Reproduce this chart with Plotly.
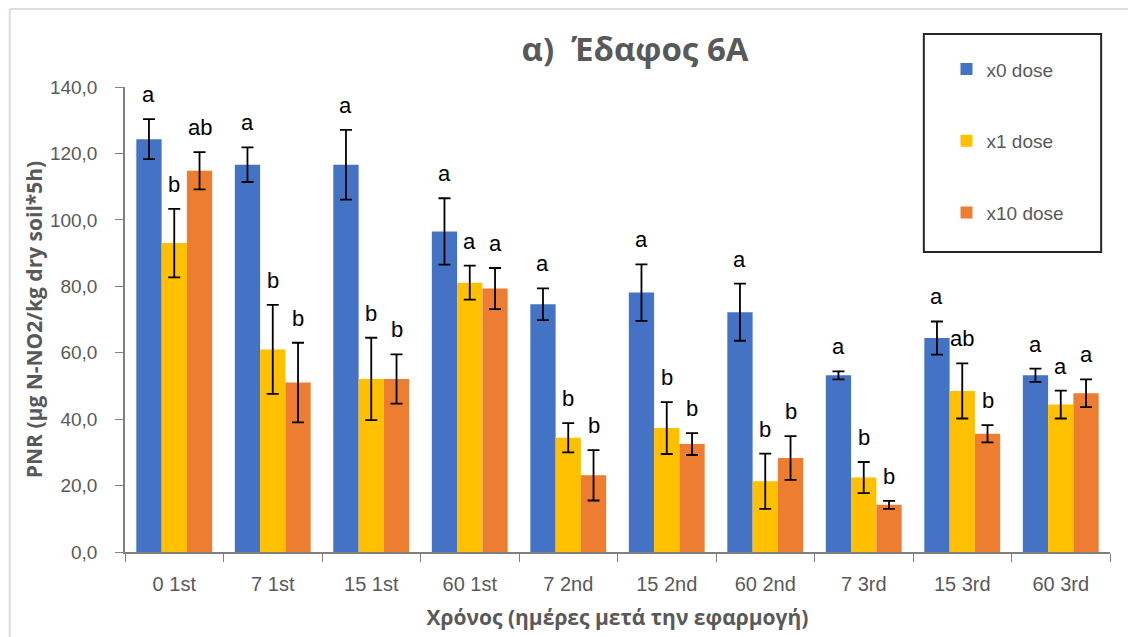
import plotly.graph_objects as go

# Sampling times (days after application / application round)
categories = ["0 1st", "7 1st", "15 1st", "60 1st", "7 2nd",
              "15 2nd", "60 2nd", "7 3rd", "15 3rd", "60 3rd"]

# Mean PNR per treatment
x0_mean = [124.3, 116.6, 116.6, 96.5, 74.6, 78.1, 72.2, 53.2, 64.4, 53.2]
x1_mean = [93.0, 61.0, 52.1, 81.1, 34.4, 37.3, 21.3, 22.4, 48.5, 44.4]
x10_mean = [114.8, 51.0, 52.1, 79.3, 23.1, 32.5, 28.3, 14.2, 35.6, 47.8]

# Standard errors
x0_err = [6.0, 5.2, 10.5, 10.0, 4.8, 8.5, 8.6, 1.2, 5.0, 2.0]
x1_err = [10.3, 13.4, 12.4, 5.1, 4.4, 7.8, 8.3, 4.7, 8.3, 4.2]
x10_err = [5.6, 12.0, 7.4, 6.2, 7.6, 3.3, 6.6, 1.2, 2.6, 4.2]

# Significance letters
x0_sig = ["a", "a", "a", "a", "a", "a", "a", "a", "a", "a"]
x1_sig = ["b", "b", "b", "a", "b", "b", "b", "b", "ab", "a"]
x10_sig = ["ab", "b", "b", "a", "b", "b", "b", "b", "b", "a"]

y_ticks = [0, 20, 40, 60, 80, 100, 120, 140]
y_tick_text = ["0,0", "20,0", "40,0", "60,0", "80,0", "100,0", "120,0", "140,0"]

series = [
    ("x0 dose", x0_mean, x0_err, x0_sig, "#4472C4"),
    ("x1 dose", x1_mean, x1_err, x1_sig, "#FFC000"),
    ("x10 dose", x10_mean, x10_err, x10_sig, "#ED7D31"),
]

GRAY = "#595959"
FONT = "Liberation Sans"

fig = go.Figure()
for i, (name, mean, err, sig, color) in enumerate(series):
    fig.add_trace(go.Bar(
        name=name, x=categories, y=mean,
        marker=dict(color=color, line=dict(width=0)),
        error_y=dict(type="data", array=err, visible=True,
                     color="black", thickness=1.8, width=6),
        offsetgroup=str(i), legendgroup=name,
    ))

# Letters above each error bar, aligned with its bar in the group
n = len(series)
for i, (name, mean, err, sig, color) in enumerate(series):
    for c, m, e, s in zip(categories, mean, err, sig):
        fig.add_annotation(
            x=c, y=m + e, text=s, showarrow=False,
            xref="x", yref="y", yanchor="bottom", yshift=10,
            xshift=(i - (n - 1) / 2) * 25.3,
            font=dict(family=FONT, size=22, color="black"),
        )

fig.update_layout(
    width=1128, height=637,
    margin=dict(l=125, r=18, t=87, b=85),
    paper_bgcolor="white", plot_bgcolor="white",
    barmode="group", bargap=0.23, bargroupgap=0,
    font=dict(family=FONT, color=GRAY),
    title=dict(text="<b>α)  Έδαφος 6Α</b>", x=0.563, xanchor="center",
               y=0.922, yanchor="middle",
               font=dict(family="Open Sans", size=33, color=GRAY)),
    showlegend=True,
    legend=dict(x=0.834, y=1.079, xanchor="left", yanchor="top",
                bgcolor="rgba(0,0,0,0)", borderwidth=0,
                tracegroupgap=44,
                font=dict(family=FONT, size=19, color=GRAY)),
    xaxis=dict(
        type="category", showline=True, linecolor="#7f7f7f", linewidth=1.5,
        ticks="outside", tickson="boundaries", ticklen=8, tickcolor="#7f7f7f",
        ticklabelstandoff=13,
        tickfont=dict(family=FONT, size=20, color=GRAY),
        title=dict(text="<b>Χρόνος (ημέρες μετά την εφαρμογή)</b>",
                   font=dict(family="Open Sans", size=21, color=GRAY),
                   standoff=17),
        showgrid=False,
    ),
    yaxis=dict(
        range=[0, 140], tickvals=y_ticks, ticktext=y_tick_text,
        showline=True, linecolor="#7f7f7f", linewidth=1.5,
        ticks="outside", ticklen=8, tickcolor="#7f7f7f",
        ticklabelstandoff=14,
        tickfont=dict(family=FONT, size=19, color=GRAY),
        title=dict(text="<b>PNR (μg N-NO2/kg dry soil*5h)</b>",
                   font=dict(family="Open Sans", size=21, color=GRAY),
                   standoff=2),
        showgrid=False, zeroline=False,
    ),
)

# Legend frame
fig.add_shape(type="rect", xref="paper", yref="paper",
              x0=0.811, x1=0.991, y0=0.645, y1=1.114,
              line=dict(color="#262626", width=2), fillcolor="rgba(0,0,0,0)")

# Sheet gridlines framing the chart object
fig.add_shape(type="line", xref="paper", yref="paper",
              x0=-0.117, x1=1.02, y0=1.168, y1=1.168,
              line=dict(color="#D9DDE4", width=2))
fig.add_shape(type="line", xref="paper", yref="paper",
              x0=-0.117, x1=-0.117, y0=-0.2, y1=1.168,
              line=dict(color="#D9DDE4", width=2))

fig.write_html("out.html")
